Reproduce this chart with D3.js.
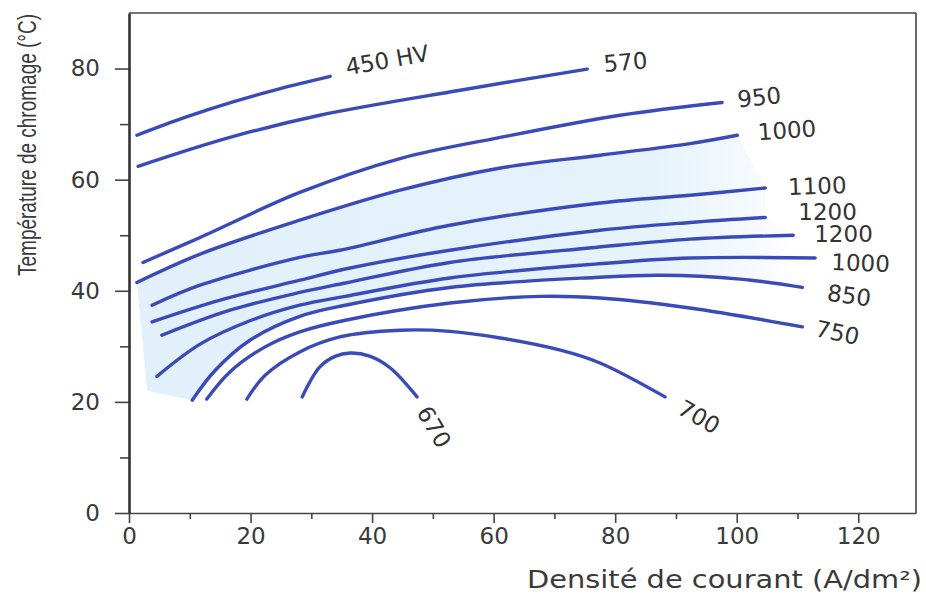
<!DOCTYPE html>
<html>
<head>
<meta charset="utf-8">
<script src="https://cdn.jsdelivr.net/npm/d3@7"></script>
<style>
  body { margin: 0; background: #fff; }
  svg { display: block; }
</style>
</head>
<body>
<div id="chart"></div>
<script>
// iso-hardness curves (HV), [current density A/dm2, temperature °C]
const hv450  = [[1.3,68.0],[9.2,71.2],[17.1,74.0],[24.9,76.4],[33.1,78.6]];
const hv570  = [[1.5,62.4],[16.6,67.6],[31.4,71.6],[54.5,76.1],[75.4,79.9]];
const hv950  = [[2.3,45.1],[11.7,49.6],[28.1,57.7],[44.6,63.8],[61.1,67.6],[80.8,71.6],[97.6,73.9]];
const hv1000a = [[1.3,41.5],[11.7,46.6],[28.1,52.7],[44.6,58.1],[61.1,62.1],[77.5,64.4],[92.3,66.5],[100.1,68.0]];
const hv1100 = [[3.8,37.4],[11.7,41.0],[28.1,46.0],[34.7,47.3],[52.8,51.8],[77.5,55.8],[92.3,57.2],[104.7,58.5]];
const hv1200a = [[3.8,34.4],[15.0,38.3],[28.1,41.9],[36.4,44.1],[52.8,47.3],[77.5,50.9],[92.3,52.3],[104.7,53.2]];
const hv1200b = [[5.4,32.0],[16.6,36.5],[28.1,39.7],[35.6,41.4],[52.8,45.1],[76.7,47.8],[92.3,49.3],[109.3,50.0]];
const hv1000b = [[4.6,24.6],[11.7,30.4],[19.9,34.6],[28.1,37.4],[35.6,39.0],[52.8,42.3],[76.7,44.8],[92.3,45.9],[112.9,45.9]];
const hv850  = [[10.4,20.3],[14.2,25.7],[19.9,31.1],[28.1,35.4],[35.6,37.4],[52.8,40.6],[76.7,42.4],[87.4,42.8],[100.6,42.1],[110.8,40.6]];
const hv750  = [[12.8,20.5],[16.6,25.4],[22.4,29.9],[28.1,32.6],[35.6,34.7],[52.8,37.8],[67.7,39.0],[77.5,38.7],[92.3,36.9],[110.8,33.5]];
const hv700  = [[19.4,20.5],[22.4,24.8],[28.1,29.0],[34.7,31.7],[44.6,32.9],[52.8,32.7],[61.1,31.5],[71.0,29.3],[77.5,27.0],[88.2,20.9]];
const hv670  = [[28.5,20.9],[31.4,26.3],[33.9,28.2],[36.4,28.8],[39.7,28.2],[43.0,26.1],[47.4,20.9]];

const curves = [hv450, hv570, hv950, hv1000a, hv1100, hv1200a, hv1200b, hv1000b, hv850, hv750, hv700, hv670];
const curveLabels = ["450 HV","570","950","1000","1100","1200","1200","1000","850","750","700","670"];

const xTicks = [0,20,40,60,80,100,120];
const xMinor = [10,30,50,70,90,110];
const yTicks = [0,20,40,60,80];
const yMinor = [10,30,50,70];

// label placement relative to curve end: dx, dy (px), rotation (deg)
const labelPos = [[17,-1,-10],[17,3,-5],[16,5,-6],[21,5,-4],[23,7,-2],[33,3,0],[21,7,0],[16,12,2],[24,13,8],[12,9,12],[11,16,30],[-1,15,60]];

const W = 926, H = 597;
const margin = {top: 13, right: 10, bottom: 84, left: 129};

const svg = d3.select("#chart").append("svg")
    .attr("width", W)
    .attr("height", H)
    .style("font-family", "'DejaVu Sans', sans-serif");

const x = d3.scaleLinear().domain([0, 129.5]).range([margin.left, W - margin.right]);
const y = d3.scaleLinear().domain([0, 90]).range([H - margin.bottom, margin.top]);

const line = d3.line()
    .x(d => x(d[0]))
    .y(d => y(d[1]))
    .curve(d3.curveCatmullRom.alpha(0.5));

// shaded zone (high hardness)
const grad = svg.append("defs").append("linearGradient")
    .attr("id", "shade")
    .attr("gradientUnits", "userSpaceOnUse")
    .attr("x1", x(0)).attr("x2", x(110)).attr("y1", 0).attr("y2", 0);
grad.append("stop").attr("offset", "0%").attr("stop-color", "#e1f0fb");
grad.append("stop").attr("offset", "78%").attr("stop-color", "#e6f3fb");
grad.append("stop").attr("offset", "92%").attr("stop-color", "#f4f9fd");
grad.append("stop").attr("offset", "100%").attr("stop-color", "#ffffff");

const rightEdge = [hv1100, hv1200a, hv1200b, hv1000b].map(c => c[c.length - 1]);
const shadePath = line(hv1000a)
    + rightEdge.map(p => "L" + x(p[0]) + "," + y(p[1])).join("")
    + line(hv850.slice().reverse()).replace(/^M/, "L")
    + "L" + x(3) + "," + y(22) + "Z";

svg.append("path")
    .attr("d", shadePath)
    .attr("fill", "url(#shade)");

// frame
svg.append("line")
    .attr("x1", x(0)).attr("x2", x(129.5)).attr("y1", y(90)).attr("y2", y(90))
    .attr("stroke", "#444").attr("stroke-width", 1.6);
svg.append("line")
    .attr("x1", x(129.5)).attr("x2", x(129.5)).attr("y1", y(90)).attr("y2", y(0))
    .attr("stroke", "#444").attr("stroke-width", 1.6);

// axes
svg.append("g")
    .attr("transform", `translate(0,${y(0)})`)
    .call(d3.axisBottom(x).tickValues(xTicks).tickSize(10).tickSizeOuter(0).tickPadding(5));
svg.append("g")
    .attr("transform", `translate(0,${y(0)})`)
    .call(d3.axisBottom(x).tickValues(xMinor).tickSize(6).tickFormat(""))
    .call(g => g.select(".domain").remove());

const yAxis = svg.append("g")
    .attr("transform", `translate(${x(0)},0)`)
    .call(d3.axisLeft(y).tickValues(yTicks).tickSize(14).tickSizeOuter(0).tickPadding(15));
svg.append("g")
    .attr("transform", `translate(${x(0)},0)`)
    .call(d3.axisLeft(y).tickValues(yMinor).tickSize(9).tickFormat(""))
    .call(g => g.select(".domain").remove());

svg.selectAll(".domain").attr("stroke", "#444").attr("stroke-width", 1.6);
yAxis.select(".domain").attr("stroke-width", 2.6).attr("stroke", "#333");
svg.selectAll(".tick line").attr("stroke", "#444").attr("stroke-width", 1.6);
svg.selectAll(".tick text")
    .attr("font-family", "'DejaVu Sans', sans-serif")
    .attr("font-size", 23)
    .attr("fill", "#3a3a3a");

// curves
svg.append("g").selectAll("path")
    .data(curves)
    .join("path")
    .attr("d", line)
    .attr("fill", "none")
    .attr("stroke", "#3a4ab8")
    .attr("stroke-width", 3.4)
    .attr("stroke-linecap", "round");

// curve labels
svg.append("g").selectAll("text")
    .data(curves)
    .join("text")
    .attr("transform", (c, i) => {
      const e = c[c.length - 1];
      const p = labelPos[i];
      return `translate(${x(e[0]) + p[0]},${y(e[1]) + p[1]}) rotate(${p[2]})`;
    })
    .attr("font-size", 23)
    .attr("fill", "#333")
    .text((c, i) => curveLabels[i]);

// axis titles
svg.append("text")
    .attr("x", 922)
    .attr("y", 588)
    .attr("text-anchor", "end")
    .attr("font-size", 24)
    .attr("fill", "#3a3a3a")
    .attr("textLength", 395)
    .attr("lengthAdjust", "spacingAndGlyphs")
    .text("Densité de courant (A/dm²)");

// y title: narrow along its length, tall glyphs (as in the scanned figure)
svg.append("text")
    .attr("transform", "translate(36,145) rotate(-90) scale(1,1.35)")
    .attr("text-anchor", "middle")
    .attr("font-family", "'Liberation Sans', Arial, sans-serif")
    .attr("font-size", 19)
    .attr("fill", "#3a3a3a")
    .text("Température de chromage (°C)");
</script>
</body>
</html>
